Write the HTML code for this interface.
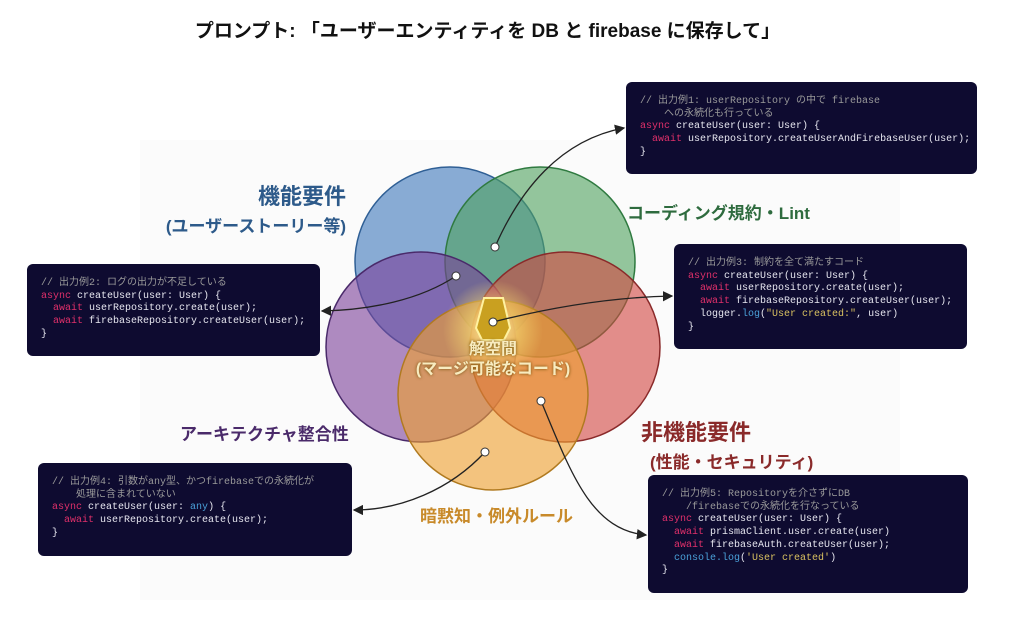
<!DOCTYPE html>
<html><head><meta charset="utf-8"><style>
body{margin:0;width:1024px;height:625px;background:#fff;position:relative;overflow:hidden;font-family:"Liberation Sans","Noto Sans CJK JP",sans-serif}
.t{position:absolute;white-space:nowrap;font-weight:bold}
.box{position:absolute;background:#0e0b30;border-radius:6px;box-sizing:border-box;padding:12px 14px;font-family:"Liberation Mono","Noto Sans CJK JP",monospace;font-size:10px;line-height:12.7px;color:#e6e6ef;white-space:pre}
.c{color:#9a9a9a}.k{color:#e0306a}.b{color:#4aa0d8}.s{color:#d8c060}
</style></head><body>
<div class="t" style="left:0;width:975px;text-align:center;top:16px;font-size:19px;color:#111">プロンプト: 「ユーザーエンティティを DB と firebase に保存して」</div>
<div style="position:absolute;left:140px;top:140px;width:760px;height:460px;background:#fbfbfb"></div>
<svg width="1024" height="625" style="position:absolute;left:0;top:0">
<defs>
<radialGradient id="gl"><stop offset="0" stop-color="#fff6c0" stop-opacity="0.95"/><stop offset="0.5" stop-color="#f5d870" stop-opacity="0.6"/><stop offset="1" stop-color="#f5d870" stop-opacity="0"/></radialGradient>
<marker id="ah" markerWidth="8" markerHeight="8" refX="7" refY="4" orient="auto"><path d="M0,0 L8,4 L0,8 z" fill="#222"/></marker>
</defs>
<g stroke-width="1.5">
<circle cx="450" cy="262" r="95" fill="#4a7fbf" fill-opacity="0.65" stroke="#2f5f95"/>
<circle cx="540" cy="262" r="95" fill="#4ea25e" fill-opacity="0.6" stroke="#2f7a40"/>
<circle cx="421" cy="347" r="95" fill="#7b3f9a" fill-opacity="0.6" stroke="#4a2a6a"/>
<circle cx="565" cy="347" r="95" fill="#d2453f" fill-opacity="0.6" stroke="#8a2a2a"/>
<circle cx="493" cy="395" r="95" fill="#eda030" fill-opacity="0.62" stroke="#b07a20"/>
</g>
<circle cx="493" cy="330" r="50" fill="url(#gl)"/>
<path d="M484,298 L503,298 L510,328 L504,340 L482,340 L476,328 Z" fill="#c9a020" stroke="#fff2a0" stroke-width="2"/>
<g fill="none" stroke="#222" stroke-width="1.3">
<path d="M495,247 C520,190 560,140 624,128" marker-end="url(#ah)"/>
<path d="M456,276 C420,300 370,310 322,311" marker-end="url(#ah)"/>
<path d="M493,322 C560,305 620,297 672,296" marker-end="url(#ah)"/>
<path d="M485,452 C450,490 400,510 354,510" marker-end="url(#ah)"/>
<path d="M541,401 C570,470 590,530 646,535" marker-end="url(#ah)"/>
</g>
<g fill="#fff" stroke="#333" stroke-width="1">
<circle cx="495" cy="247" r="4"/><circle cx="456" cy="276" r="4"/><circle cx="493" cy="322" r="4"/><circle cx="541" cy="401" r="4"/><circle cx="485" cy="452" r="4"/>
</g>
</svg>
<div class="t" style="left:493px;top:340px;transform:translateX(-50%);text-align:center;font-size:16px;line-height:20px;color:#f8ecc0;text-shadow:0 0 3px #6a4a00">解空間<br>(マージ可能なコード)</div>
<div class="t" style="right:678px;top:183px;font-size:22px;color:#2d5a8a;text-align:right;line-height:28px">機能要件<br><span style="font-size:17px">(ユーザーストーリー等)</span></div>
<div class="t" style="left:627px;top:199px;font-size:17px;color:#2e6b3e">コーディング規約・Lint</div>
<div class="t" style="left:180px;top:420px;font-size:17px;color:#4a2a6a">アーキテクチャ整合性</div>
<div class="t" style="left:641px;top:419px;font-size:22px;color:#8a2a2a;line-height:28px">非機能要件<br><span style="font-size:17px;margin-left:9px">(性能・セキュリティ)</span></div>
<div class="t" style="left:420px;top:502px;font-size:17px;color:#c88a2a">暗黙知・例外ルール</div>

<div class="box" style="left:626px;top:82px;width:351px;height:92px;padding-top:14px"><span class="c">// 出力例1: userRepository の中で firebase
    への永続化も行っている</span>
<span class="k">async</span> createUser(user: User) {
  <span class="k">await</span> userRepository.createUserAndFirebaseUser(user);
}</div>
<div class="box" style="left:27px;top:264px;width:293px;height:92px;padding-top:14px"><span class="c">// 出力例2: ログの出力が不足している</span>
<span class="k">async</span> createUser(user: User) {
  <span class="k">await</span> userRepository.create(user);
  <span class="k">await</span> firebaseRepository.createUser(user);
}</div>
<div class="box" style="left:674px;top:244px;width:293px;height:105px;padding-top:14px"><span class="c">// 出力例3: 制約を全て満たすコード</span>
<span class="k">async</span> createUser(user: User) {
  <span class="k">await</span> userRepository.create(user);
  <span class="k">await</span> firebaseRepository.createUser(user);
  logger.<span class="b">log</span>(<span class="s">"User created:"</span>, user)
}</div>
<div class="box" style="left:38px;top:463px;width:314px;height:93px;padding-top:14px"><span class="c">// 出力例4: 引数がany型、かつfirebaseでの永続化が
    処理に含まれていない</span>
<span class="k">async</span> createUser(user: <span class="b">any</span>) {
  <span class="k">await</span> userRepository.create(user);
}</div>
<div class="box" style="left:648px;top:475px;width:320px;height:118px;padding-top:14px"><span class="c">// 出力例5: Repositoryを介さずにDB
    /firebaseでの永続化を行なっている</span>
<span class="k">async</span> createUser(user: User) {
  <span class="k">await</span> prismaClient.user.create(user)
  <span class="k">await</span> firebaseAuth.createUser(user);
  <span class="b">console.log</span>(<span class="s">'User created'</span>)
}</div>
</body></html>
